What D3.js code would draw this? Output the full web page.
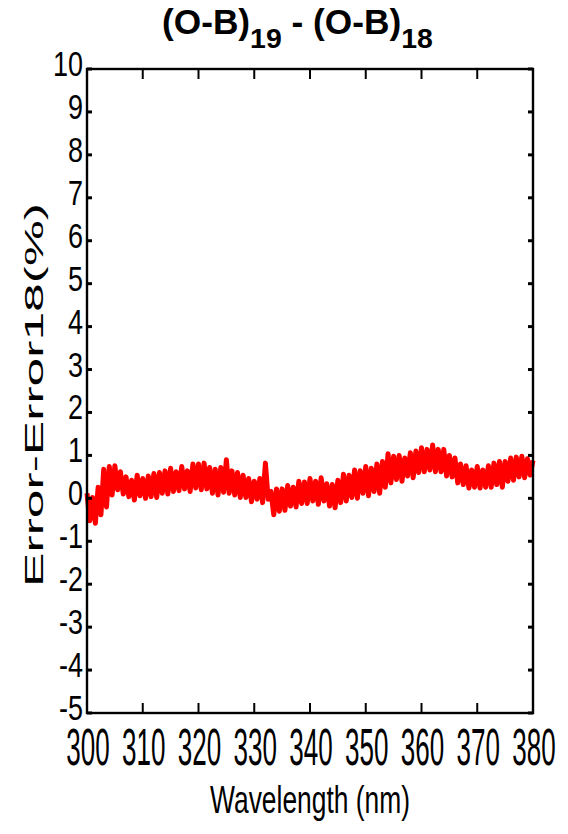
<!DOCTYPE html>
<html>
<head>
<meta charset="utf-8">
<script src="https://cdn.jsdelivr.net/npm/d3@7"></script>
<style>
  body { margin: 0; background: #ffffff; }
  svg { display: block; }
  text { font-family: "Liberation Sans", Arial, sans-serif; fill: #000; }
</style>
</head>
<body>
<svg id="chart" width="568" height="834"></svg>
<script>
// Axis ticks
const xTicks = [300, 310, 320, 330, 340, 350, 360, 370, 380];
const yTicks = [-5, -4, -3, -2, -1, 0, 1, 2, 3, 4, 5, 6, 7, 8, 9, 10];

// Error difference (%) sampled every 0.5 nm from 300 nm to 380 nm
const errorDiff = [
  0.12, -0.52, 0.02, -0.58, 0.26, -0.38, 0.68, -0.20, 0.74, 0.08,
  0.76, 0.20, 0.62, 0.10, 0.50, 0.04, 0.42, -0.04, 0.54, 0.06,
  0.46, 0.00, 0.52, 0.04, 0.58, 0.02, 0.60, 0.12, 0.64, 0.10,
  0.70, 0.16, 0.62, 0.18, 0.74, 0.22, 0.64, 0.16, 0.80, 0.24,
  0.80, 0.20, 0.82, 0.22, 0.72, 0.12, 0.68, 0.08, 0.72, 0.14,
  0.90, 0.12, 0.64, 0.08, 0.60, 0.02, 0.54, 0.02, 0.46, -0.08,
  0.40, -0.02, 0.46, -0.10, 0.82, -0.02, 0.16, -0.38, 0.22, -0.30,
  0.22, -0.28, 0.30, -0.18, 0.26, -0.20, 0.40, -0.12, 0.38, -0.12,
  0.46, -0.06, 0.40, -0.14, 0.48, -0.06, 0.34, -0.18, 0.32, -0.22,
  0.42, -0.10, 0.56, -0.06, 0.54, 0.02, 0.66, 0.00, 0.64, 0.12,
  0.74, 0.06, 0.70, 0.16, 0.80, 0.12, 0.86, 0.26, 1.04, 0.36,
  0.98, 0.44, 1.00, 0.40, 0.94, 0.52, 1.06, 0.48, 1.10, 0.60,
  1.18, 0.62, 1.14, 0.66, 1.24, 0.62, 1.14, 0.62, 1.14, 0.52,
  1.00, 0.50, 0.94, 0.36, 0.80, 0.32, 0.76, 0.24, 0.66, 0.26,
  0.74, 0.24, 0.66, 0.26, 0.76, 0.26, 0.82, 0.32, 0.86, 0.26,
  0.86, 0.40, 0.94, 0.42, 0.96, 0.50, 0.98, 0.48, 0.92, 0.54,
  0.88
];
const wavelength = errorDiff.map((_, i) => 300 + i * 0.5);

const svg = d3.select("#chart");

const x = d3.scaleLinear().domain([300, 380]).range([87, 533]);
const y = d3.scaleLinear().domain([-5, 10]).range([713, 69]);

// Title with subscripts
const title = svg.append("text")
  .attr("font-family", "Lato, 'Open Sans', sans-serif")
  .attr("font-weight", 700)
  .attr("font-size", 31)
  .attr("text-anchor", "start");
title.append("tspan").text("(O-B)");
title.append("tspan").attr("font-size", 25).attr("dy", 12).text("19");
title.append("tspan").attr("dy", -12).text(" - (O-B)");
title.append("tspan").attr("font-size", 25).attr("dy", 12).text("18");
const tw = title.node().getBBox().width;
title.attr("transform", `translate(162,34) scale(${271 / tw},1.14)`);

// Data line (not clipped, like the original plot)
const line = d3.line().x((d, i) => x(wavelength[i])).y(d => y(d));
svg.append("path")
  .datum(errorDiff)
  .attr("d", line)
  .attr("fill", "none")
  .attr("stroke", "#ff0000")
  .attr("stroke-width", 5)
  .attr("stroke-linejoin", "round");

// Axes box
const frame = svg.append("g").attr("stroke", "#000").attr("fill", "none");
frame.append("rect")
  .attr("x", x(300)).attr("y", y(10))
  .attr("width", x(380) - x(300)).attr("height", y(-5) - y(10))
  .attr("stroke-width", 2.4);

// Y ticks on both sides, pointing inward
yTicks.forEach(t => {
  frame.append("line").attr("x1", x(300)).attr("x2", x(300) + 5)
    .attr("y1", y(t)).attr("y2", y(t)).attr("stroke-width", 3);
  frame.append("line").attr("x1", x(380)).attr("x2", x(380) - 5)
    .attr("y1", y(t)).attr("y2", y(t)).attr("stroke-width", 3);
});
// X ticks on bottom and top, pointing inward
xTicks.forEach(t => {
  frame.append("line").attr("x1", x(t)).attr("x2", x(t))
    .attr("y1", y(-5)).attr("y2", y(-5) - 10).attr("stroke-width", 2);
  frame.append("line").attr("x1", x(t)).attr("x2", x(t))
    .attr("y1", y(10)).attr("y2", y(10) + 10).attr("stroke-width", 2);
});

// Y tick labels
svg.append("g").selectAll("text").data(yTicks).join("text")
  .attr("text-anchor", "end")
  .attr("font-size", 27)
  .attr("transform", d => `translate(83,${y(d) + 7}) scale(1,1.3)`)
  .text(d => d);

// X tick labels
svg.append("g").selectAll("text").data(xTicks).join("text")
  .attr("text-anchor", "middle")
  .attr("font-size", 26)
  .attr("transform", d => `translate(${x(d) + 1},765) scale(1,2)`)
  .text(d => d);

// X axis title
const xt = svg.append("text")
  .attr("text-anchor", "middle")
  .attr("font-size", 26)
  .text("Wavelength (nm)");
const xw = xt.node().getComputedTextLength();
xt.attr("transform", `translate(310,813) scale(${200 / xw},1.5)`);

// Y axis title
const yt = svg.append("text")
  .attr("text-anchor", "middle")
  .attr("font-size", 25)
  .text("Error-Error18(%)");
const yw = yt.node().getComputedTextLength();
yt.attr("transform", `translate(43,395) rotate(-90) scale(${384 / yw},1)`);
</script>
</body>
</html>
